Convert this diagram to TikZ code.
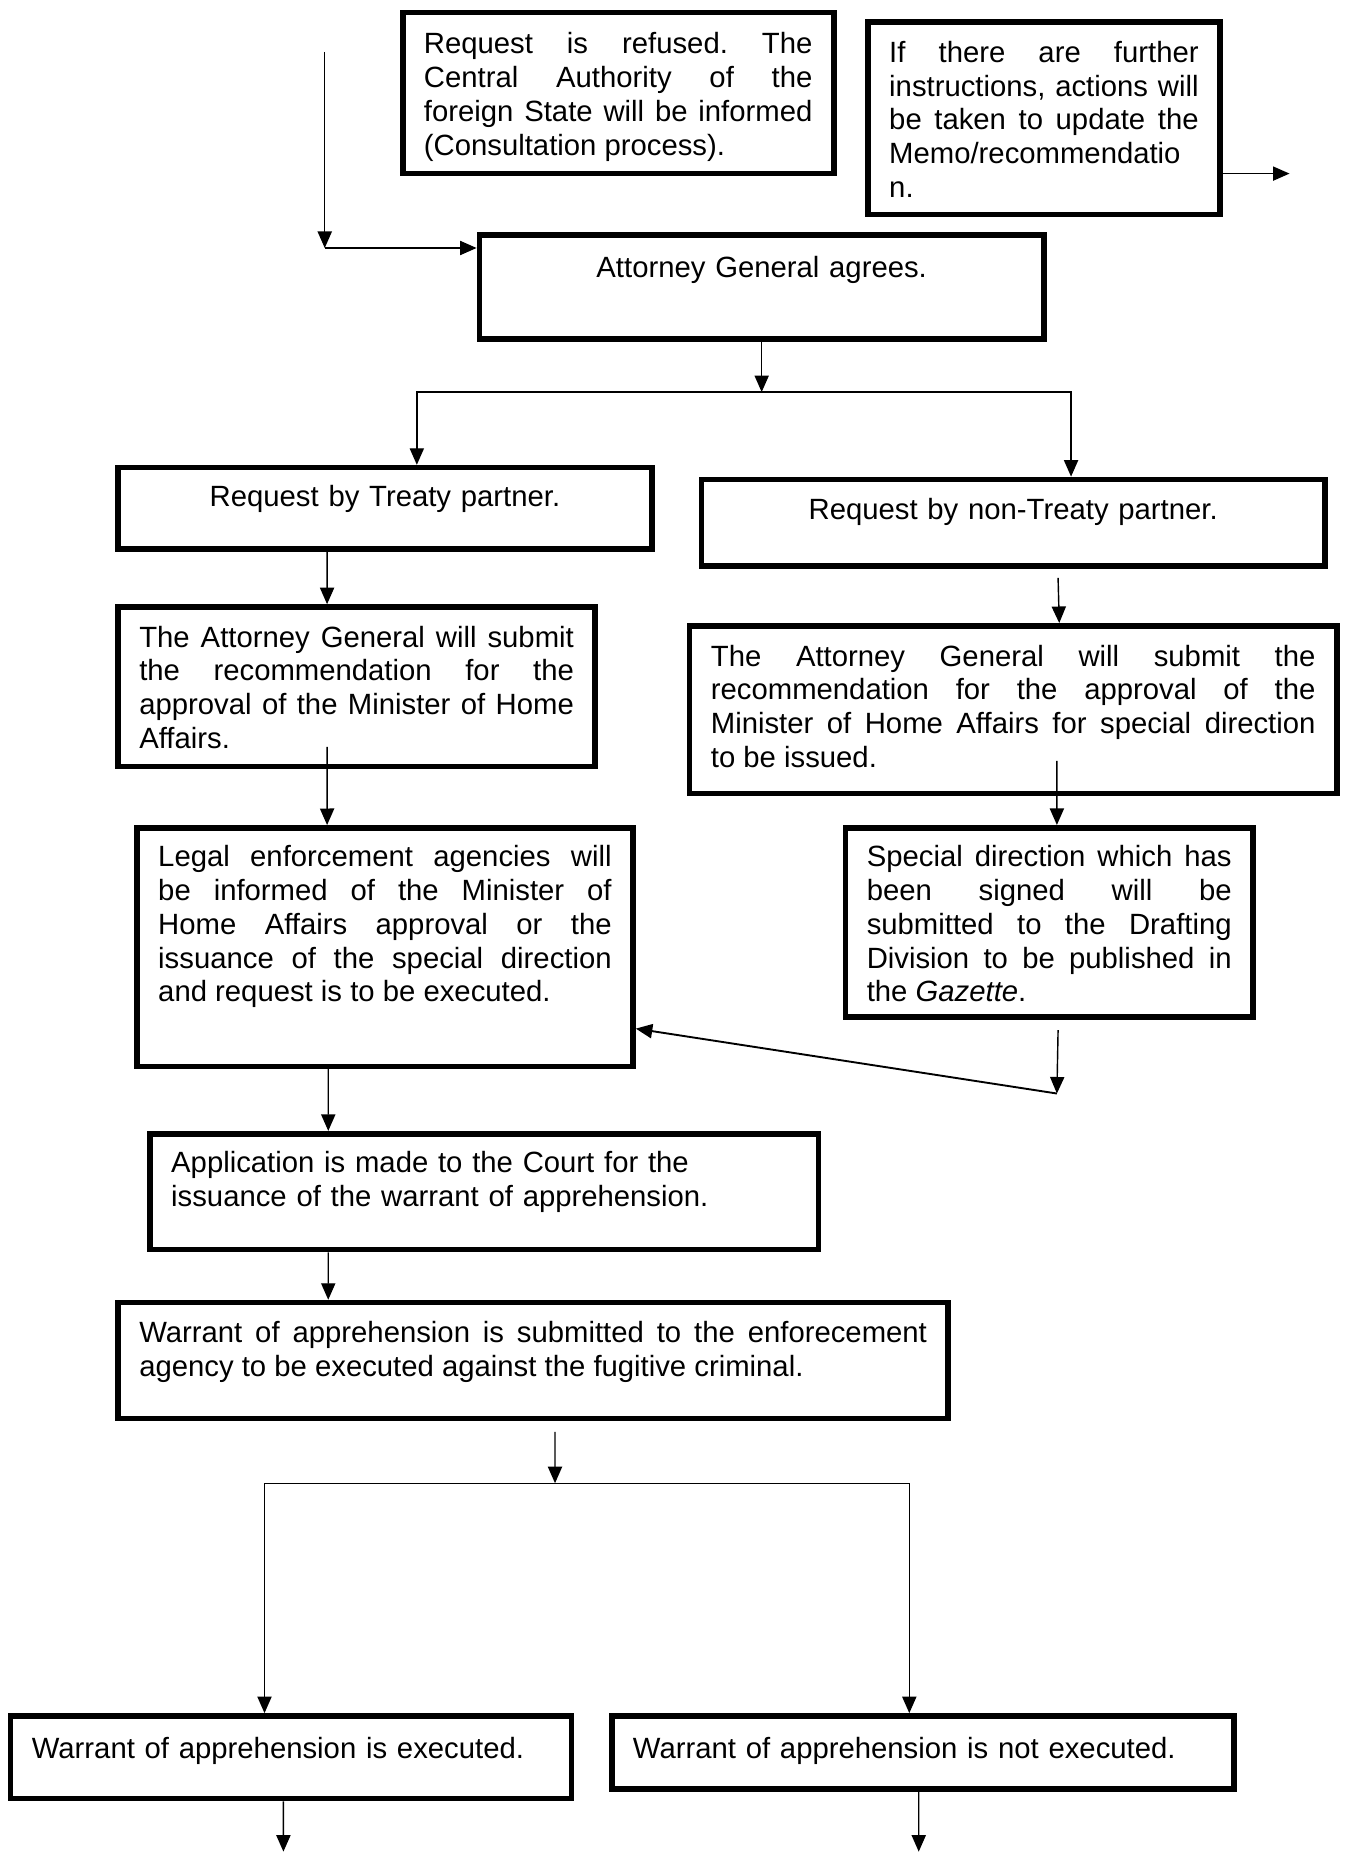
\documentclass[tikz,border=0pt]{standalone}
\usepackage{fontspec}
\setmainfont{Liberation Sans}
\usetikzlibrary{arrows.meta}
\hyphenpenalty=10000
\exhyphenpenalty=10000
\frenchspacing

\begin{document}
\begin{tikzpicture}[
block/.style={rectangle, draw=black, line width=2.4pt, inner xsep=9pt, inner ysep=0pt, font=\fontsize{12.4}{14.3}\selectfont},
>={Triangle[length=7pt,width=6pt]},
line width=0.6pt
]
\useasboundingbox (0,0) rectangle (570pt,-785pt);
%Nodes
\node[block, text width=221pt, align=center, text height=18pt, text depth=26pt] (agree) at (322.5pt,-121.5pt) {Attorney General agrees.};
\node[block, text width=164.5pt, align=justify, text height=17.6pt, text depth=50.65pt] (refused) [above of=agree, xshift=-2.135cm, yshift=1.886cm] {Request is refused. The\linebreak Central Authority of the\linebreak foreign State will be informed\linebreak (Consultation process).};
\node[block, text width=131pt, align=justify, text height=17.15pt, text depth=64.35pt] (further) [right of=refused, xshift=5.335cm, yshift=-0.373cm] {If there are further\linebreak instructions, actions will\linebreak be taken to update the\linebreak Memo/recommendatio\\ n.};
\node[block, text width=208pt, align=center, text height=16.5pt, text depth=18pt] (treaty) [below of=agree, xshift=-5.606cm, yshift=-2.295cm] {Request by Treaty partner.};
\node[block, text width=246pt, align=center, text height=17pt, text depth=19.5pt] (nontreaty) [right of=treaty, xshift=8.349cm, yshift=-0.211cm] {Request by non-Treaty partner.};
\node[block, text width=184pt, align=justify, text height=17pt, text depth=50.5pt] (submitT) [below of=treaty, xshift=-0.422cm, yshift=-1.654cm] {The Attorney General will submit\linebreak the recommendation for the\linebreak approval of the Minister of Home\linebreak Affairs.};
\node[block, text width=256pt, align=justify, text height=17pt, text depth=54pt] (submitN) [below of=nontreaty, yshift=-1.785cm] {The Attorney General will submit the\linebreak recommendation for the approval of the\linebreak Minister of Home Affairs for special direction\linebreak to be issued.};
\node[block, text width=192pt, align=justify, text height=16.5pt, text depth=84.5pt] (inform) [below of=submitT, xshift=0.422cm, yshift=-2.875cm] {Legal enforcement agencies will\linebreak be informed of the Minister of\linebreak Home Affairs approval or the\linebreak issuance of the special direction\linebreak and request is to be executed.};
\node[block, text width=154.5pt, align=justify, text height=16.5pt, text depth=63.5pt] (special) [below of=submitN, xshift=0.536cm, yshift=-2.163cm] {Special direction which has\linebreak been signed will be\linebreak submitted to the Drafting\linebreak Division to be published in\linebreak the \textit{Gazette}.};
\node[block, text width=265pt, align=left, text height=16.5pt, text depth=32.5pt] (court) [below of=inform, xshift=1.476cm, yshift=-2.638cm] {Application is made to the Court for the\\ issuance of the warrant of apprehension.};
\node[block, text width=333.5pt, align=justify, text height=17pt, text depth=32pt] (warrant) [below of=court, xshift=0.729cm, yshift=-1.513cm] {Warrant of apprehension is submitted to the enforecement\linebreak agency to be executed against the fugitive criminal.};
\node[block, text width=219.5pt, align=left, text height=18pt, text depth=17pt] (exec) [below of=warrant, xshift=-3.602cm, yshift=-4.905cm] {Warrant of apprehension is executed.};
\node[block, text width=245.5pt, align=left, text height=18pt, text depth=13pt] (notexec) [right of=exec, xshift=8.402cm, yshift=0.07cm] {Warrant of apprehension is not executed.};
%Lines
\coordinate (inlet) at (137.5pt,-22pt);
\coordinate (bend) at (137.5pt,-105pt);
\coordinate (outlet) at (546pt,-73.5pt);
\coordinate (fork) at (322.5pt,-166pt);
\coordinate (gazette) at (447.5pt,-463pt);
\coordinate (split) at (235pt,-628pt);
\coordinate (endA) at (120pt,-784pt);
\coordinate (endB) at (389pt,-784pt);
\draw[->] (inlet) -- (bend);
\draw[->] (bend) -- (agree.west |- bend);
\draw[->] (further.east |- outlet) -- (outlet);
\draw[->] (agree.south) -- (fork);
\draw[->] (fork) -| ([xshift=13.5pt]treaty.north);
\draw[->] (fork) -| ([xshift=24.5pt]nontreaty.north);
\draw[->] ([xshift=-24.5pt]treaty.south) -- ([xshift=-12.5pt]submitT.north);
\draw[->] ([xshift=19pt,yshift=-4pt]nontreaty.south) -- ([xshift=19.5pt]submitN.north);
\draw[->] ([xshift=-12.5pt,yshift=9.5pt]submitT.south) -- ([xshift=-24.5pt]inform.north);
\draw[->] ([xshift=18.5pt,yshift=15pt]submitN.south) -- ([xshift=3.25pt]special.north);
\draw[->] ([xshift=3.75pt,yshift=-4.5pt]special.south) -- (gazette);
\draw[->, line width=0.8pt] (gazette) -- ([yshift=-34.5pt]inform.east);
\draw[->] ([xshift=-24pt]inform.south) -- ([xshift=-66pt]court.north);
\draw[->] ([xshift=-66pt]court.south) -- ([xshift=-86.75pt]warrant.north);
\draw[->] ([xshift=9.25pt,yshift=-4.5pt]warrant.south) -- (split);
\draw[->] (split) -| ([xshift=-11.25pt]exec.north);
\draw[->] (split) -| ([xshift=-5.75pt]notexec.north);
\draw[->] ([xshift=-3.25pt]exec.south) -- (endA);
\draw[->] ([xshift=-1.75pt]notexec.south) -- (endB);
\end{tikzpicture}
\end{document}
